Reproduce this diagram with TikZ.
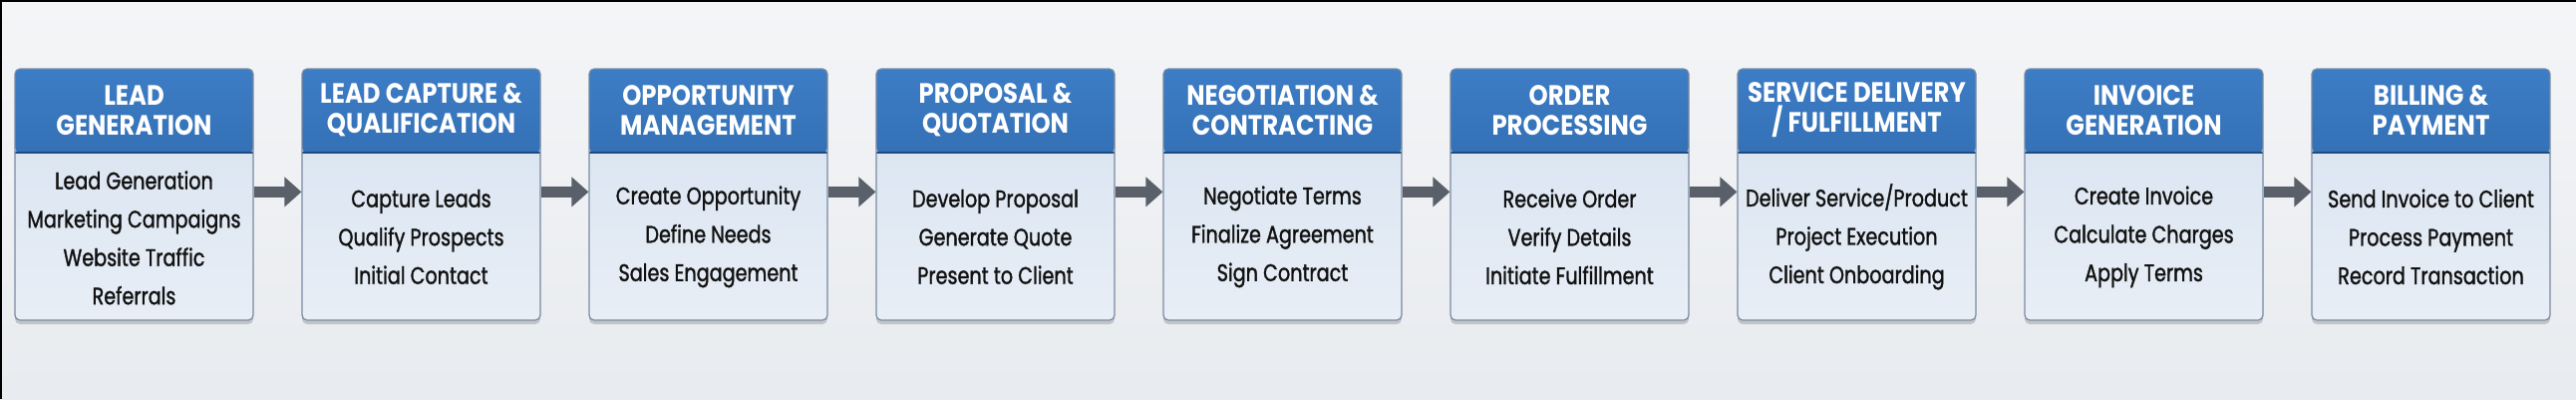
\documentclass[tikz,border=0pt]{standalone}
\usepackage{fontspec}
\setmainfont{Poppins}[FakeStretch=0.8]
\newfontfamily\titlefont{Poppins}[FakeStretch=0.87]
\newfontfamily\taskfont{Poppins}[FakeStretch=0.8,FakeBold=1.3]
\usetikzlibrary{arrows.meta,shadows}

\definecolor{pagetop}{HTML}{F4F5F7}
\definecolor{pagebot}{HTML}{E8EBEF}
\definecolor{headtop}{HTML}{3D7DC5}
\definecolor{headbot}{HTML}{225899}
\definecolor{headline}{HTML}{1B4A84}
\definecolor{bodytop}{HTML}{D6E2F0}
\definecolor{bodybot}{HTML}{E8EEF6}
\definecolor{boxedge}{HTML}{7A8BA2}
\definecolor{bodyink}{HTML}{111111}
\definecolor{arrowgray}{HTML}{596069}

\begin{document}
\begin{tikzpicture}[x=1pt,y=-1pt,
    stage/.style={rectangle,rounded corners=5pt,minimum width=239pt,minimum height=252pt,
      draw=boxedge,line width=1.2pt,top color=bodytop,bottom color=bodybot,
      drop shadow={shadow xshift=0pt,shadow yshift=-4pt,opacity=.3,fill=black!60},
      path picture={
        \shade[top color=headtop,bottom color=headbot]
          (path picture bounding box.north west) rectangle
          ([yshift=-84pt]path picture bounding box.north east);
        \draw[headline,line width=2pt]
          ([yshift=-84pt]path picture bounding box.north west) --
          ([yshift=-84pt]path picture bounding box.north east);}},
    headtext/.style={text=white,font=\titlefont\bfseries\fontsize{28}{30}\selectfont,align=center},
    bodytext/.style={text=bodyink,font=\taskfont\fontsize{24}{38.5}\selectfont,align=center},
    flow/.style={-{Triangle[length=17pt,width=29pt]},line width=11pt,draw=arrowgray}]

    % page
    \useasboundingbox (0,0) rectangle (2584,400);
    \shade[top color=pagetop,bottom color=pagebot] (0,0) rectangle (2584,400);
    \draw[black,line width=3pt] (0,400) -- (0,0) -- (2584,0);

    % stages
    \node at (134.5,195)  [stage] (lead) {};
    \node at (422.5,195)  [stage] (capture) {};
    \node at (710.5,195)  [stage] (oppty) {};
    \node at (998.5,195)  [stage] (proposal) {};
    \node at (1286.5,195) [stage] (nego) {};
    \node at (1574.5,195) [stage] (order) {};
    \node at (1862.5,195) [stage] (delivery) {};
    \node at (2150.5,195) [stage] (invoice) {};
    \node at (2438.5,195) [stage] (billing) {};

    % titles
    \node at ([yshift=-42pt]lead.north)     [headtext] (lead-t) {LEAD\\GENERATION};
    \node at ([yshift=-42pt]capture.north)  [headtext] (capture-t) {LEAD CAPTURE \&\\QUALIFICATION};
    \node at ([yshift=-42pt]oppty.north)    [headtext] (oppty-t) {OPPORTUNITY\\MANAGEMENT};
    \node at ([yshift=-42pt]proposal.north) [headtext] (proposal-t) {PROPOSAL \&\\QUOTATION};
    \node at ([yshift=-42pt]nego.north)     [headtext] (nego-t) {NEGOTIATION \&\\CONTRACTING};
    \node at ([yshift=-42pt]order.north)    [headtext] (order-t) {ORDER\\PROCESSING};
    \node at ([yshift=-42pt]delivery.north) [headtext] (delivery-t) {SERVICE DELIVERY\\/ FULFILLMENT};
    \node at ([yshift=-42pt]invoice.north)  [headtext] (invoice-t) {INVOICE\\GENERATION};
    \node at ([yshift=-42pt]billing.north)  [headtext] (billing-t) {BILLING \&\\PAYMENT};

    % tasks
    \node at ([yshift=-170pt]lead.north)     [bodytext] (lead-b) {Lead Generation\\Marketing Campaigns\\Website Traffic\\Referrals};
    \node at ([yshift=-169pt]capture.north)  [bodytext] (capture-b) {Capture Leads\\Qualify Prospects\\Initial Contact};
    \node at ([yshift=-169pt]oppty.north)    [bodytext] (oppty-b) {Create Opportunity\\Define Needs\\Sales Engagement};
    \node at ([yshift=-169pt]proposal.north) [bodytext] (proposal-b) {Develop Proposal\\Generate Quote\\Present to Client};
    \node at ([yshift=-169pt]nego.north)     [bodytext] (nego-b) {Negotiate Terms\\Finalize Agreement\\Sign Contract};
    \node at ([yshift=-169pt]order.north)    [bodytext] (order-b) {Receive Order\\Verify Details\\Initiate Fulfillment};
    \node at ([yshift=-169pt]delivery.north) [bodytext] (delivery-b) {Deliver Service/Product\\Project Execution\\Client Onboarding};
    \node at ([yshift=-169pt]invoice.north)  [bodytext] (invoice-b) {Create Invoice\\Calculate Charges\\Apply Terms};
    \node at ([yshift=-169pt]billing.north)  [bodytext] (billing-b) {Send Invoice to Client\\Process Payment\\Record Transaction};

    % flow arrows
    \draw[flow] ([yshift=-124pt]lead.north east)     -- ([yshift=-124pt]capture.north west);
    \draw[flow] ([yshift=-124pt]capture.north east)  -- ([yshift=-124pt]oppty.north west);
    \draw[flow] ([yshift=-124pt]oppty.north east)    -- ([yshift=-124pt]proposal.north west);
    \draw[flow] ([yshift=-124pt]proposal.north east) -- ([yshift=-124pt]nego.north west);
    \draw[flow] ([yshift=-124pt]nego.north east)     -- ([yshift=-124pt]order.north west);
    \draw[flow] ([yshift=-124pt]order.north east)    -- ([yshift=-124pt]delivery.north west);
    \draw[flow] ([yshift=-124pt]delivery.north east) -- ([yshift=-124pt]invoice.north west);
    \draw[flow] ([yshift=-124pt]invoice.north east)  -- ([yshift=-124pt]billing.north west);
\end{tikzpicture}
\end{document}
